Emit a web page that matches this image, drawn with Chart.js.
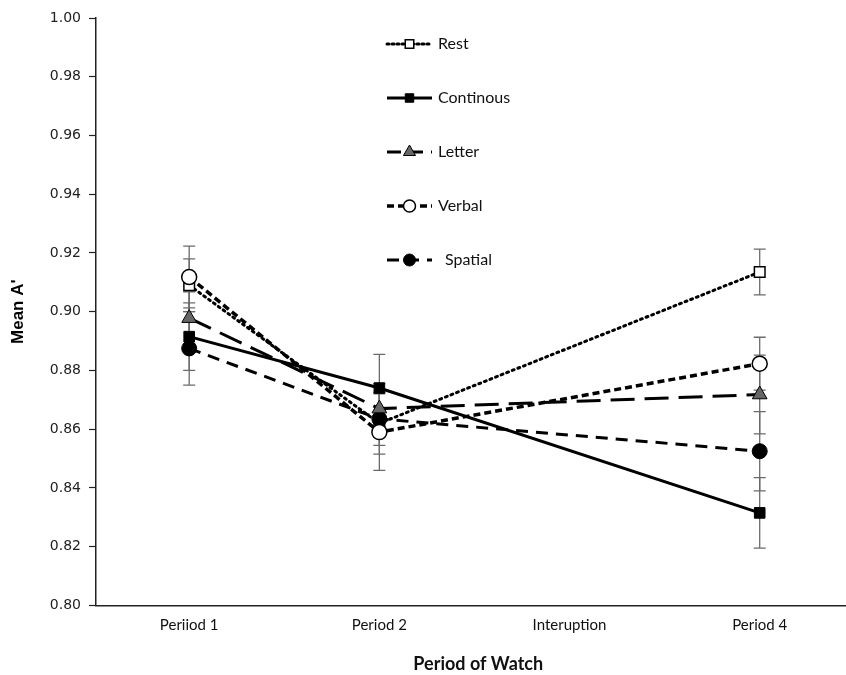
<!DOCTYPE html>
<html>
<head>
<meta charset="utf-8">
<script src="https://cdn.jsdelivr.net/npm/chart.js@4.4.1/dist/chart.umd.min.js"></script>
<style>
  html, body { margin: 0; padding: 0; background: #fff; overflow: hidden; }
  #wrap { width: 870px; height: 675px; position: relative; }
</style>
</head>
<body>
<div id="wrap"><canvas id="chart"></canvas></div>
<script>
// Categories on the x axis
const categories = ['Periiod 1', 'Period 2', 'Interuption', 'Period 4'];

// Mean A' per condition (no value at the interruption)
const restValues      = [0.909,  0.862,  null, 0.9135];
const continousValues = [0.8915, 0.874,  null, 0.8315];
const letterValues    = [0.8978, 0.867,  null, 0.8718];
const verbalValues    = [0.9118, 0.859,  null, 0.8823];
const spatialValues   = [0.8875, 0.8635, null, 0.8525];

// Error bar half-lengths
const restErr      = [0.009,  0.0105, null, 0.0078];
const continousErr = [0.0115, 0.0115, null, 0.012];
const letterErr    = [0.009,  0.0085, null, 0.0134];
const verbalErr    = [0.0105, 0.013,  null, 0.009];
const spatialErr   = [0.0125, 0.009,  null, 0.0135];

// Y axis ticks
const yMin = 0.80, yMax = 1.00, yStep = 0.02;

// turn a value list into {x, y} points, skipping the gap
function toPoints(values, errs) {
  const pts = [];
  values.forEach((v, i) => {
    if (v !== null) pts.push({ x: i + 1, y: v, err: errs[i] });
  });
  return pts;
}

const datasets = [
  {
    label: 'Rest',
    data: toPoints(restValues, restErr),
    order: 1,
    borderColor: '#000', borderWidth: 3, borderDash: [2, 4], borderCapStyle: 'round',
    pointStyle: 'rect', pointRadius: 7.5, pointBackgroundColor: '#fff',
    pointBorderColor: '#000', pointBorderWidth: 1.5
  },
  {
    label: 'Continous',
    data: toPoints(continousValues, continousErr),
    borderColor: '#000', borderWidth: 3, borderDash: [],
    pointStyle: 'rect', pointRadius: 7.5, pointBackgroundColor: '#000',
    pointBorderColor: '#000', pointBorderWidth: 1
  },
  {
    label: 'Letter',
    data: toPoints(letterValues, letterErr),
    borderColor: '#000', borderWidth: 3, borderDash: [24, 10],
    pointStyle: 'triangle', pointRadius: 8.5, pointBackgroundColor: '#666',
    pointBorderColor: '#000', pointBorderWidth: 1
  },
  {
    label: 'Verbal',
    data: toPoints(verbalValues, verbalErr),
    borderColor: '#000', borderWidth: 3.5, borderDash: [7, 4],
    pointStyle: 'circle', pointRadius: 7.5, pointBackgroundColor: '#fff',
    pointBorderColor: '#000', pointBorderWidth: 1.5
  },
  {
    label: 'Spatial',
    data: toPoints(spatialValues, spatialErr),
    borderColor: '#000', borderWidth: 3, borderDash: [12, 8],
    pointStyle: 'circle', pointRadius: 7.5, pointBackgroundColor: '#000',
    pointBorderColor: '#000', pointBorderWidth: 1
  }
];

// draws the vertical error bars behind the markers
const errorBars = {
  id: 'errorBars',
  beforeDatasetsDraw(chart) {
    const ctx = chart.ctx;
    const xs = chart.scales.x, ys = chart.scales.y;
    ctx.save();
    ctx.strokeStyle = '#6b6b6b';
    ctx.lineWidth = 1.3;
    chart.data.datasets.forEach(ds => {
      ds.data.forEach(p => {
        const x = xs.getPixelForValue(p.x);
        const top = ys.getPixelForValue(p.y + p.err);
        const bot = ys.getPixelForValue(p.y - p.err);
        ctx.beginPath();
        ctx.moveTo(x, top); ctx.lineTo(x, bot);
        ctx.moveTo(x - 6, top); ctx.lineTo(x + 6, top);
        ctx.moveTo(x - 6, bot); ctx.lineTo(x + 6, bot);
        ctx.stroke();
      });
    });
    ctx.restore();
  }
};

// legend in the middle of the plot, each entry with its line and marker
const innerLegend = {
  id: 'innerLegend',
  afterDraw(chart) {
    const ctx = chart.ctx;
    const x0 = 387, x1 = 432, gap = 54;
    let y = 44;
    ctx.save();
    chart.data.datasets.forEach(ds => {
      ctx.strokeStyle = ds.borderColor;
      ctx.lineWidth = ds.borderWidth;
      ctx.setLineDash(ds.label === 'Rest' ? [2, 3] : (ds.label === 'Letter' ? [14, 8] : ds.borderDash));
      ctx.lineCap = ds.label === 'Rest' ? 'round' : 'butt';
      ctx.beginPath();
      ctx.moveTo(x0, y); ctx.lineTo(x1, y);
      ctx.stroke();
      ctx.setLineDash([]);
      ctx.fillStyle = ds.pointBackgroundColor;
      ctx.strokeStyle = ds.pointBorderColor;
      ctx.lineWidth = ds.pointBorderWidth;
      Chart.helpers.drawPoint(ctx, { pointStyle: ds.pointStyle, radius: ds.pointRadius - 1.5, borderWidth: ds.pointBorderWidth }, (x0 + x1) / 2, y);
      ctx.fillStyle = '#111';
      ctx.font = '16px Lato';
      ctx.textBaseline = 'middle';
      ctx.fillText(ds.label, ds.label === 'Spatial' ? 445 : 438, y);
      y += gap;
    });
    ctx.restore();
  }
};

new Chart(document.getElementById('chart'), {
  type: 'line',
  data: { datasets: datasets },
  plugins: [errorBars, innerLegend],
  options: {
    responsive: true,
    maintainAspectRatio: false,
    animation: false,
    layout: { padding: { top: 18, right: 0, left: 8, bottom: 0 } },
    plugins: {
      legend: { display: false },
      tooltip: { enabled: false }
    },
    scales: {
      x: {
        type: 'linear',
        min: 0.51,
        max: 4.53,
        afterBuildTicks: scale => {
          scale.ticks = categories.map((c, i) => ({ value: i + 1 }));
        },
        ticks: {
          callback: v => categories[v - 1],
          color: '#111',
          font: { family: 'Lato', size: 15 },
          padding: 11,
          autoSkip: false,
          maxRotation: 0
        },
        grid: { drawOnChartArea: false, drawTicks: false },
        border: { display: true, color: '#222', width: 1.5 },
        title: {
          display: true,
          text: 'Period of Watch',
          color: '#111',
          font: { family: 'Lato', size: 18, weight: 'bold' },
          padding: { top: 8, bottom: 0 }
        }
      },
      y: {
        min: yMin,
        max: yMax,
        afterFit: scale => { scale.width = 88; },
        ticks: {
          stepSize: yStep,
          callback: v => v.toFixed(2),
          color: '#222',
          font: { family: 'DejaVu Sans', size: 14 },
          padding: 8
        },
        grid: { drawOnChartArea: false, drawTicks: true, tickLength: 7, color: '#222', tickWidth: 1.2 },
        border: { display: true, color: '#222', width: 1.5 },
        title: {
          display: true,
          text: "Mean A'",
          color: '#000',
          font: { family: 'Liberation Sans', size: 17, weight: 'bold' },
          padding: { top: 0, bottom: 0 }
        }
      }
    }
  }
});
</script>
</body>
</html>
